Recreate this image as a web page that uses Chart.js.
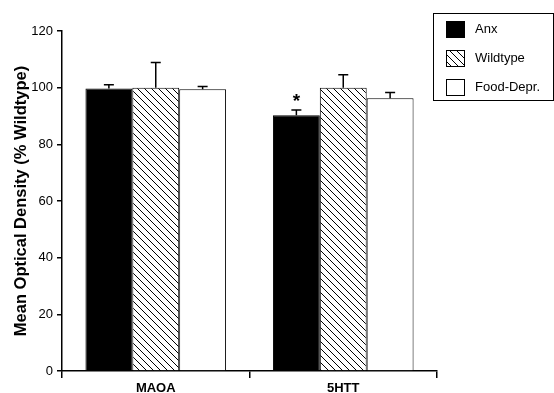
<!DOCTYPE html>
<html>
<head>
<meta charset="utf-8">
<script src="https://cdn.jsdelivr.net/npm/chart.js@4"></script>
<style>
  body { margin: 0; background: #fff; }
  #wrap { width: 554px; height: 393px; position: relative; }
</style>
</head>
<body>
<div id="wrap"><canvas id="odChart"></canvas></div>
<script>
// Datos
const categories = ['MAOA', '5HTT'];
const seriesNames = ['Anx', 'Wildtype', 'Food-Depr.'];
const anxValues = [99.7, 90.3];
const anxErrors = [1.3, 1.8];
const wildValues = [100, 100];
const wildErrors = [8.9, 4.6];
const foodValues = [99.4, 96.3];
const foodErrors = [1.0, 2.0];
const significant = [[false, true], [false, false], [false, false]]; // asterisco por serie/categoría
const yTicks = [0, 20, 40, 60, 80, 100, 120];

const FONT = '"Liberation Sans", Arial, Helvetica, sans-serif';

// Patrón rayado (\\\)
function makeHatch() {
    const s = 7;
    const c = document.createElement('canvas');
    c.width = s; c.height = s;
    const g = c.getContext('2d');
    g.fillStyle = '#fff';
    g.fillRect(0, 0, s, s);
    g.strokeStyle = '#000';
    g.lineWidth = 1;
    g.beginPath();
    g.moveTo(-1, -1); g.lineTo(s + 1, s + 1);
    g.moveTo(-1, s - 1); g.lineTo(1, s + 1);
    g.moveTo(s - 1, -1); g.lineTo(s + 1, 1);
    g.stroke();
    return g.createPattern(c, 'repeat');
}
const hatch = makeHatch();

const errorSets = [anxErrors, wildErrors, foodErrors];

// Barras de error y asterisco
const errorBarPlugin = {
    id: 'errorBars',
    afterDatasetsDraw(chart) {
        const ctx = chart.ctx;
        const y = chart.scales.y;
        ctx.save();
        ctx.strokeStyle = '#000';
        ctx.lineWidth = 1.5;
        chart.data.datasets.forEach((ds, i) => {
            const meta = chart.getDatasetMeta(i);
            meta.data.forEach((bar, j) => {
                const v = ds.data[j];
                const top = y.getPixelForValue(v + errorSets[i][j]);
                const base = y.getPixelForValue(v);
                ctx.beginPath();
                ctx.moveTo(bar.x, base);
                ctx.lineTo(bar.x, top);
                ctx.moveTo(bar.x - 5, top);
                ctx.lineTo(bar.x + 5, top);
                ctx.stroke();
                if (significant[i][j]) {
                    ctx.fillStyle = '#000';
                    ctx.font = 'bold 19px ' + FONT;
                    ctx.textAlign = 'center';
                    ctx.textBaseline = 'alphabetic';
                    ctx.fillText('*', bar.x, top - 3);
                }
            });
        });
        ctx.restore();
    }
};

// Leyenda con recuadro
const boxLegendPlugin = {
    id: 'boxLegend',
    afterDraw(chart) {
        const ctx = chart.ctx;
        const bx = 433, by = 13, bw = 120, bh = 87;
        ctx.save();
        ctx.strokeStyle = '#000';
        ctx.lineWidth = 1;
        ctx.strokeRect(bx + 0.5, by + 0.5, bw, bh);
        ctx.font = '13px ' + FONT;
        ctx.textBaseline = 'middle';
        ctx.textAlign = 'left';
        chart.data.datasets.forEach((ds, i) => {
            const cy = by + 16 + i * 29;
            ctx.fillStyle = ds.backgroundColor;
            ctx.fillRect(446, cy - 8, 19, 17);
            ctx.strokeRect(446.5, cy - 7.5, 18, 16);
            ctx.fillStyle = '#000';
            ctx.fillText(ds.label, 475, cy);
        });
        ctx.restore();
    }
};

const barCommon = {
    borderColor: '#000',
    borderWidth: 1,
    categoryPercentage: 0.75,
    barPercentage: 1.0
};

const odChart = new Chart(document.getElementById('odChart'), {
    type: 'bar',
    data: {
        labels: categories,
        datasets: [
            { ...barCommon, label: seriesNames[0], data: anxValues, backgroundColor: '#000' },
            { ...barCommon, label: seriesNames[1], data: wildValues, backgroundColor: hatch },
            { ...barCommon, label: seriesNames[2], data: foodValues, backgroundColor: '#fff' }
        ]
    },
    options: {
        responsive: true,
        maintainAspectRatio: false,
        animation: false,
        layout: { padding: { top: 31, right: 117, left: 0, bottom: 0 } },
        plugins: {
            legend: { display: false },
            tooltip: { enabled: false }
        },
        scales: {
            x: {
                offset: true,
                grid: { offset: true, drawOnChartArea: false, tickLength: 7, color: '#000', lineWidth: 1.5 },
                border: { color: '#000', width: 1.5 },
                ticks: { color: '#000', padding: 3, font: { family: FONT, size: 13, weight: 'bold' } },
                afterFit: s => { s.height = 22; }
            },
            y: {
                min: 0,
                max: 120,
                afterBuildTicks: s => { s.ticks = yTicks.map(v => ({ value: v })); },
                grid: { drawOnChartArea: false, tickLength: 5, color: '#000', lineWidth: 1.5 },
                border: { color: '#000', width: 1.5 },
                ticks: { color: '#000', padding: 4, font: { family: FONT, size: 13 } },
                title: {
                    display: true,
                    text: 'Mean Optical Density (% Wildtype)',
                    color: '#000',
                    font: { family: FONT, size: 16.5, weight: 'bold' },
                    padding: { top: 12, bottom: 0 }
                },
                afterFit: s => { s.width = 62; }
            }
        }
    },
    plugins: [errorBarPlugin, boxLegendPlugin]
});
</script>
</body>
</html>
